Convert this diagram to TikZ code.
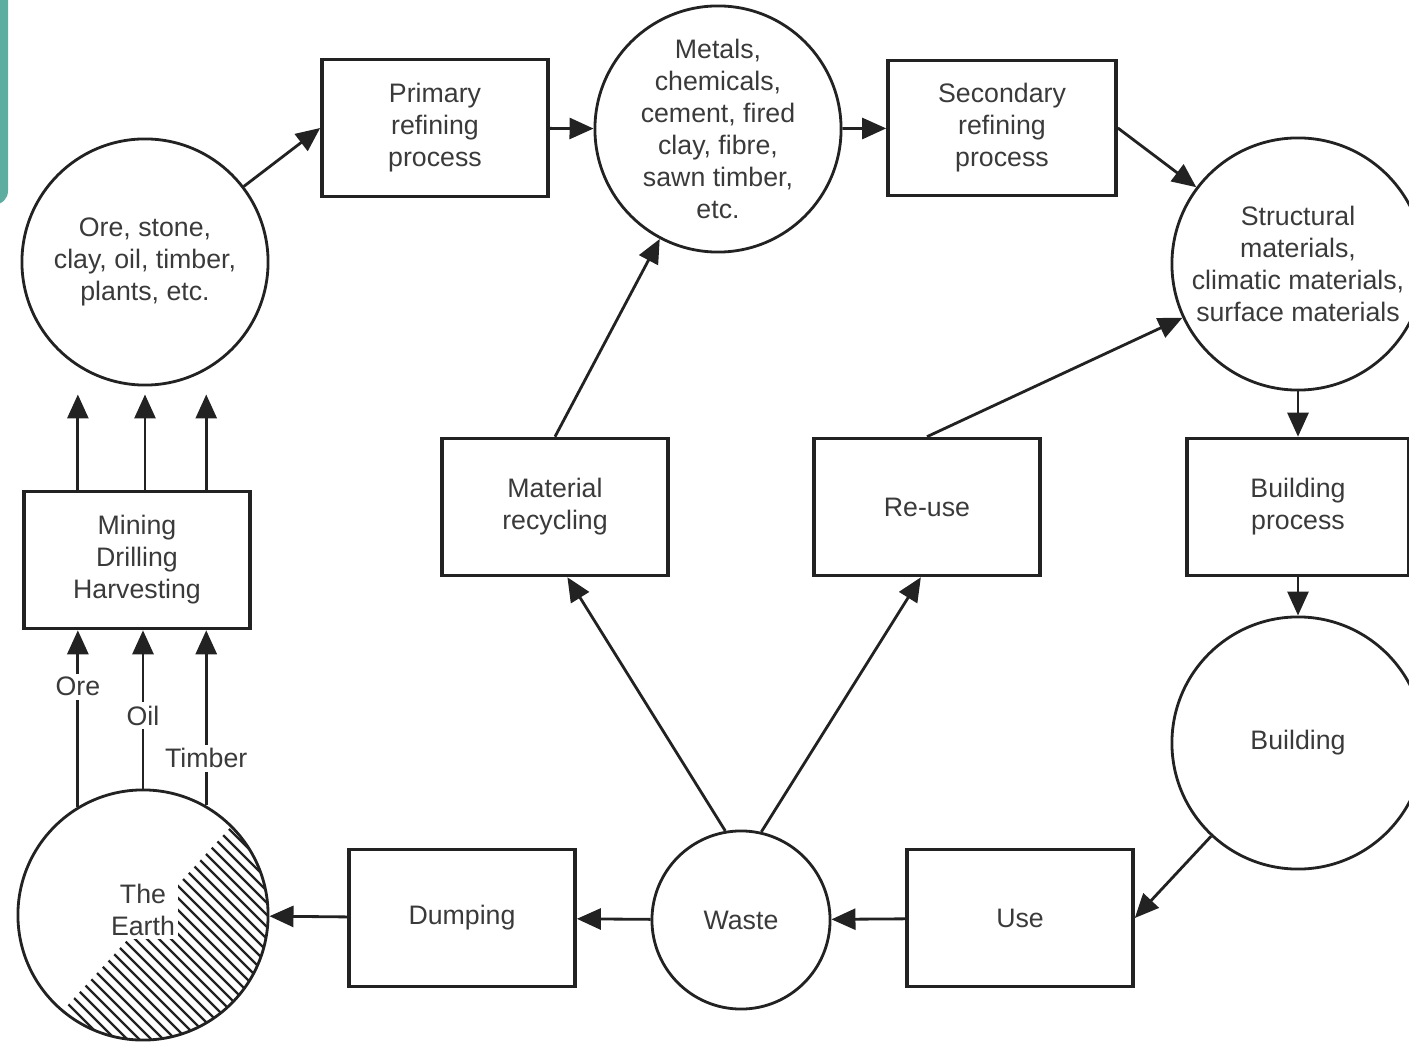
\documentclass[tikz,border=0pt]{standalone}
\usepackage{fontspec}
\setmainfont{Liberation Sans}
\usetikzlibrary{arrows.meta}
\definecolor{ink}{HTML}{222222}
\definecolor{txt}{HTML}{3A3A3A}
\definecolor{barteal}{HTML}{5DAEA0}
\newcommand{\dgmfont}{\fontsize{7.6pt}{9.1pt}\selectfont}
\tikzset{
  >={Triangle[length=2.4mm,width=2.1mm]},
  box/.style={draw=ink, line width=1pt, minimum width=2.26cm, minimum height=1.37cm,
              align=center, font=\dgmfont, text=txt},
  stock/.style={draw=ink, line width=0.8pt, circle, inner sep=0pt, align=center,
                font=\dgmfont, text=txt},
  l/.style={->, line width=0.8pt, draw=ink},
  tag/.style={fill=white, inner sep=1pt, align=center, font=\dgmfont, text=txt},
  hatch/.style={line width=0.7pt, draw=ink},
}

\begin{document}
\begin{tikzpicture}[x=0.01cm, y=-0.01cm]
  \useasboundingbox (0,0) rectangle (1409,1043);
  \fill[barteal, rounded corners=4pt] (-20,-20) rectangle (8,205);

  % top row
  \node[stock, minimum size=2.46cm] (raw) at (145,262) {Ore, stone,\\ clay, oil, timber,\\ plants, etc.};
  \node[box] (primary) at (435,128) {Primary\\ refining\\ process};
  \node[stock, minimum size=2.46cm] (metals) at (718,129) {Metals,\\ chemicals,\\ cement, fired\\ clay, fibre,\\ sawn timber,\\ etc.};
  \node[box, minimum width=2.28cm, minimum height=1.35cm] (secondary) at (1002,128) {Secondary\\ refining\\ process};
  \node[stock, minimum size=2.52cm] (structural) at (1298,264) {Structural\\ materials,\\ climatic materials,\\ surface materials};

  % middle row
  \node[box] (mining) at (137,560) {Mining\\ Drilling\\ Harvesting};
  \node[box] (recycling) at (555,507) {Material\\ recycling};
  \node[box] (reuse) at (927,507) {Re-use};
  \node[box, minimum width=2.22cm] (buildproc) at (1298,507) {Building\\ process};
  \node[stock, minimum size=2.52cm] (building) at (1298,743) {Building};

  % bottom row
  \node[box] (use) at (1020,918) {Use};
  \node[stock, minimum size=1.78cm] (waste) at (741,920) {Waste};
  \node[box] (dumping) at (462,918) {Dumping};
  \node[stock, minimum size=2.5cm] (earth) at (143,915) {};

  % hatched part of the earth
  \begin{scope}
    \clip (earth.center) circle (1.25cm);
    \clip (-20,1101) -- (313,737) -- (420,737) -- (420,1120) -- (-20,1120) -- cycle;
    \foreach \c in {-960,-948,...,-580}
      \draw[hatch] ({\c+780},780) -- ({\c+1100},1100);
  \end{scope}
  \node[tag] (earthlbl) at (143,910) {The\\ Earth};

  % main cycle
  \draw[l] (raw) -- (primary.west);
  \draw[l] (primary) -- (metals);
  \draw[l] (metals) -- (secondary);
  \draw[l] (secondary.east) -- (structural);
  \draw[l] (structural) -- (buildproc);
  \draw[l] (buildproc) -- (building);
  \draw[l] (building) -- (use.east);
  \draw[l] (use) -- (waste);
  \draw[l] (waste) -- (dumping);
  \draw[l] (dumping) -- (earth);

  % recovery loops
  \draw[l] (waste.100) -- (recycling.-80);
  \draw[l] (waste.77) -- (reuse.-95);
  \draw[l] (recycling.north) -- (metals);
  \draw[l] (reuse.north) -- (structural);

  % extraction
  \coordinate (rawfoot) at ([yshift=-0.08cm]raw.south);
  \draw[l] (earth.121) -- node[tag, pos=0.68] {Ore} (earth.121 |- mining.south);
  \draw[l] (earth.north) -- node[tag, pos=0.46] {Oil} (earth.north |- mining.south);
  \draw[l] (earth.60) -- node[tag, pos=0.27] {Timber} (earth.60 |- mining.south);
  \draw[l] (mining.north -| earth.121) -- (rawfoot -| earth.121);
  \draw[l] (mining.north -| raw.south) -- (rawfoot);
  \draw[l] (mining.north -| earth.60) -- (rawfoot -| earth.60);
\end{tikzpicture}
\end{document}
